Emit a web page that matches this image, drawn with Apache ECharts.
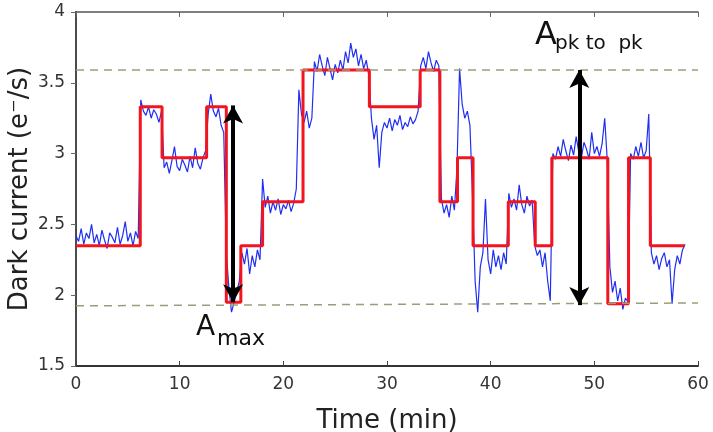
<!DOCTYPE html>
<html style="height: 100%">
<head>
    <meta charset="utf-8" />
    <title>Dark current</title>
    <script type="text/javascript" src="https://cdn.jsdelivr.net/npm/echarts@6/dist/echarts.min.js"></script>
</head>
<body style="height: 100%; margin: 0; background: #fff">
    <div id="container" style="width: 713px; height: 432px"></div>
</body>
</html>
<script type="text/javascript">
    // measured trace, one sample every 0.25 min from t = 0
    var blueStep = 0.25;
    var blueValues = [
        2.42, 2.38, 2.47, 2.36, 2.44, 2.40, 2.50, 2.37, 2.43, 2.35, 2.46, 2.39, 2.33, 2.44, 2.41, 2.37, 2.48, 2.36, 2.42, 2.52, 2.38, 2.44, 2.35, 2.45, 2.40,
        3.38, 3.30, 3.27, 3.33, 3.25, 3.31, 3.28, 3.22, 3.30,
        2.90, 2.94, 2.86, 2.95, 3.05, 2.91, 2.88, 2.96, 2.92, 2.87, 2.98, 2.90, 3.04, 2.93, 2.89, 2.97, 3.02,
        3.28, 3.42, 3.30, 3.26, 3.32, 3.20, 3.15,
        2.30, 2.05, 1.88, 1.95, 2.02, 2.10,
        2.30, 2.22, 2.33, 2.15, 2.28, 2.20, 2.32, 2.25,
        2.82, 2.62, 2.70, 2.58, 2.66, 2.60, 2.68, 2.57, 2.64, 2.61, 2.67, 2.59, 2.65,
        2.75, 3.45, 3.28, 3.22, 3.30, 3.18, 3.25,
        3.65, 3.58, 3.70, 3.62, 3.55, 3.68, 3.60, 3.52, 3.63, 3.57, 3.66, 3.59, 3.72, 3.64, 3.78, 3.68, 3.74, 3.62, 3.70, 3.60, 3.66,
        3.55,
        3.25, 3.10, 3.20, 2.90, 3.15,
        3.22, 3.18, 3.25, 3.16, 3.24, 3.20, 3.27, 3.17, 3.22, 3.19, 3.26, 3.21, 3.24, 3.30,
        3.62, 3.68, 3.60, 3.72, 3.64, 3.58, 3.66, 3.62,
        2.68, 2.58, 2.64, 2.55, 2.70, 2.60,
        2.90, 3.60, 3.35, 3.25, 3.30, 3.20, 2.70,
        2.10, 1.88, 2.20, 2.30, 2.68, 2.25, 2.15, 2.32, 2.20, 2.28, 2.18, 2.30, 2.22,
        2.72, 2.62, 2.68, 2.60, 2.78, 2.64, 2.58, 2.70, 2.63, 2.67,
        2.35, 2.28, 2.32, 2.20, 2.30, 2.10, 1.96,
        3.00, 2.96, 3.05, 2.98, 3.10, 3.02, 2.95, 3.06, 2.99, 3.12, 3.01, 2.97, 3.08, 3.03, 2.96, 3.15, 3.00, 3.05, 2.98, 3.07, 3.25,
        2.95, 2.20, 2.02, 2.10, 1.96, 2.05, 1.90, 1.98, 1.95,
        3.00, 2.96, 3.05, 2.98, 3.08, 2.97, 3.02, 3.28,
        2.30, 2.22, 2.28, 2.18, 2.26, 2.30, 2.20, 2.25, 1.94, 2.18, 2.28, 2.22, 2.32, 2.36
    ];

    // fitted levels: level i holds from stepTimes[i] to stepTimes[i+1]
    var stepTimes = [0, 6.2, 8.3, 12.6, 14.5, 15.9, 18.0, 21.9, 28.3, 33.2, 35.1, 36.8, 38.3, 41.7, 44.3, 45.9, 51.3, 53.3, 55.4, 58.7];
    var stepLevels = [2.35, 3.33, 2.97, 3.33, 1.95, 2.35, 2.66, 3.59, 3.33, 3.59, 2.66, 2.97, 2.35, 2.66, 2.35, 2.97, 1.94, 2.97, 2.35];

    // dashed reference lines [y at t=0, y at t=60]
    var refLines = [[3.59, 3.59], [1.925, 1.945]];

    // arrows [t, yLow, yHigh]
    var arrows = [[15.15, 1.95, 3.34], [48.55, 1.93, 3.59]];

    var xTicks = [0, 10, 20, 30, 40, 50, 60];
    var yTicks = [1.5, 2, 2.5, 3, 3.5, 4];

    var blueData = blueValues.map(function (v, i) { return [i * blueStep, v]; });
    var redData = stepLevels.map(function (v, i) { return [stepTimes[i], v]; });
    redData.push([stepTimes[stepTimes.length - 1], stepLevels[stepLevels.length - 1]]);

    var font = 'DejaVu Sans';
    var dom = document.getElementById("container");
    var myChart = echarts.init(dom, null, { renderer: 'canvas' });

    var option = {
        animation: false,
        backgroundColor: '#fff',
        grid: { left: 76, right: 15, top: 12, bottom: 66, containLabel: false, outerBoundsMode: 'none' },
        xAxis: [{
            type: 'value',
            min: xTicks[0], max: xTicks[xTicks.length - 1], interval: 10,
            name: 'Time (min)', nameLocation: 'middle', nameGap: 42,
            nameTextStyle: { fontFamily: font, fontSize: 26, color: '#222' },
            axisLine: { lineStyle: { color: '#333', width: 2 } },
            axisTick: { inside: true, length: 5, lineStyle: { color: '#444' } },
            axisLabel: { fontFamily: font, fontSize: 17, color: '#333', margin: 10 },
            splitLine: { show: false }
        }, {
            type: 'value', position: 'top',
            min: xTicks[0], max: xTicks[xTicks.length - 1], interval: 10,
            axisLine: { lineStyle: { color: '#555', width: 1.5 } },
            axisTick: { inside: true, length: 5, lineStyle: { color: '#666' } },
            axisLabel: { show: false },
            splitLine: { show: false }
        }],
        yAxis: [{
            type: 'value',
            min: yTicks[0], max: yTicks[yTicks.length - 1], interval: 0.5,
            name: 'Dark current (e\u207B/s)', nameLocation: 'middle', nameGap: 43, nameRotate: 90,
            nameMoveOverlap: false,
            nameTextStyle: { fontFamily: font, fontSize: 26, color: '#222' },
            axisLine: { show: true, lineStyle: { color: '#333', width: 2 } },
            axisTick: { show: false },
            axisLabel: { fontFamily: font, fontSize: 17, color: '#333', margin: 11 },
            splitLine: { show: false }
        }, {
            type: 'value', position: 'right',
            min: yTicks[0], max: yTicks[yTicks.length - 1], interval: 0.5,
            axisLine: { show: true, lineStyle: { color: '#555', width: 1.5 } },
            axisTick: { show: true, inside: true, length: 5, lineStyle: { color: '#666' } },
            axisLabel: { show: false },
            splitLine: { show: false }
        }],
        series: [{
            type: 'line',
            data: blueData,
            showSymbol: false,
            lineStyle: { color: '#1f2ff2', width: 1.2 },
            z: 2
        }, {
            type: 'line',
            data: redData,
            step: 'end',
            showSymbol: false,
            lineStyle: { color: '#f2141e', width: 3 },
            z: 3,
            markLine: {
                silent: true,
                symbol: ['none', 'none'],
                label: { show: false },
                lineStyle: { color: '#9e9c78', type: [8, 6], width: 1.5 },
                data: refLines.map(function (r) {
                    return [{ coord: [xTicks[0], r[0]] }, { coord: [xTicks[xTicks.length - 1], r[1]] }];
                })
            }
        }, {
            type: 'line',
            data: [],
            z: 5,
            markLine: {
                silent: true,
                symbol: ['arrow', 'arrow'],
                symbolSize: [15, 18],
                label: { show: false },
                lineStyle: { color: '#000', type: 'solid', width: 4 },
                data: arrows.map(function (a) {
                    return [{ coord: [a[0], a[1]] }, { coord: [a[0], a[2]] }];
                })
            }
        }],
        graphic: [
            { type: 'text', x: 196, y: 328, style: { text: 'A', fontFamily: font, fontSize: 28, fill: '#111', verticalAlign: 'middle' } },
            { type: 'text', x: 217, y: 339, style: { text: 'max', fontFamily: font, fontSize: 22, fill: '#111', verticalAlign: 'middle' } },
            { type: 'text', x: 535, y: 36, style: { text: 'A', fontFamily: font, fontSize: 32, fill: '#111', verticalAlign: 'middle' } },
            { type: 'text', x: 555, y: 44, style: { text: 'pk to  pk', fontFamily: font, fontSize: 20, fill: '#111', verticalAlign: 'middle' } }
        ]
    };
    myChart.setOption(option);
</script>
